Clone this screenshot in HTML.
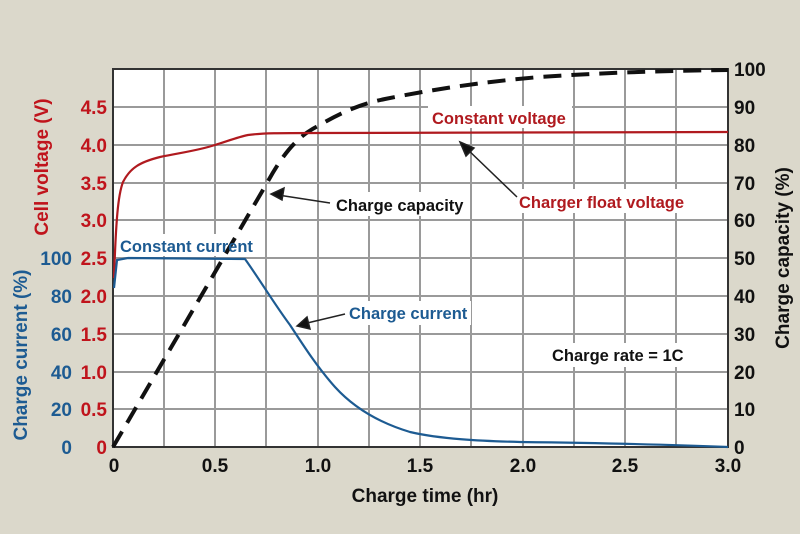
<!DOCTYPE html>
<html><head><style>
html,body{margin:0;padding:0;background:#dbd8cb;}
svg{display:block;font-family:"Liberation Sans",Arial,sans-serif;font-weight:bold;}
</style></head><body>
<svg width="800" height="534" viewBox="0 0 800 534" xmlns="http://www.w3.org/2000/svg">
<rect width="800" height="534" fill="#dbd8cb"/>
<rect x="113" y="69" width="615" height="378" fill="#fff"/>
<g stroke="#9a9a9a" stroke-width="2">
<line x1="164" y1="69" x2="164" y2="447"/><line x1="215" y1="69" x2="215" y2="447"/><line x1="266" y1="69" x2="266" y2="447"/><line x1="318" y1="69" x2="318" y2="447"/><line x1="369" y1="69" x2="369" y2="447"/><line x1="420" y1="69" x2="420" y2="447"/><line x1="471" y1="69" x2="471" y2="447"/><line x1="523" y1="69" x2="523" y2="447"/><line x1="574" y1="69" x2="574" y2="447"/><line x1="625" y1="69" x2="625" y2="447"/><line x1="676" y1="69" x2="676" y2="447"/>
<line x1="113" y1="107" x2="728" y2="107"/><line x1="113" y1="145" x2="728" y2="145"/><line x1="113" y1="183" x2="728" y2="183"/><line x1="113" y1="220" x2="728" y2="220"/><line x1="113" y1="258" x2="728" y2="258"/><line x1="113" y1="296" x2="728" y2="296"/><line x1="113" y1="334" x2="728" y2="334"/><line x1="113" y1="372" x2="728" y2="372"/><line x1="113" y1="409" x2="728" y2="409"/>
</g>
<g fill="#fff">
<rect x="428" y="106" width="144" height="22"/><rect x="514" y="189" width="176" height="24"/>
<rect x="330" y="192" width="136" height="24"/><rect x="345" y="301" width="126" height="24"/>
<rect x="116" y="234" width="142" height="22"/><rect x="548" y="343" width="140" height="24"/>
</g>
<rect x="113" y="69" width="615" height="378" fill="none" stroke="#333" stroke-width="2"/>
<path d="M113,447 L267,183 C285,150 300,135 318,126 C340,113 360,104 385,99 C430,90 480,82 540,77 C600,73 650,71 728,70" fill="none" stroke="#111" stroke-width="4" stroke-dasharray="18,10"/>
<path d="M114,278 C116,220 118,195 123,182 C130,168 140,162 160,157 C185,152 200,150 215,145 C228,141 238,137 248,135 C262,133 280,133 318,133 L728,132" fill="none" stroke="#b01a1f" stroke-width="2.2"/>
<path d="M114,288 L117,260 L128,258 L245,259 C260,280 275,305 290,325 C305,348 318,368 335,387 C355,409 380,423 410,432 C440,439 480,441 520,442 C600,443 680,445 728,447" fill="none" stroke="#1d5b92" stroke-width="2.2"/>
<g stroke="#222" stroke-width="1.5" fill="#111">
<line x1="517" y1="197" x2="464" y2="146"/><polygon points="460,142 474,148 466,156"/>
<line x1="330" y1="203" x2="278" y2="195"/><polygon points="271,194 284,188 282,200"/>
<line x1="345" y1="314" x2="303" y2="324"/><polygon points="297,326 307,317 310,329"/>
</g>
<g font-size="16.5">
<text x="432" y="124" fill="#b01a1f">Constant voltage</text>
<text x="519" y="208" fill="#b01a1f">Charger float voltage</text>
<text x="336" y="211" fill="#111">Charge capacity</text>
<text x="349" y="319" fill="#1d5b92">Charge current</text>
<text x="120" y="252" fill="#1d5b92">Constant current</text>
<text x="552" y="361" fill="#111">Charge rate = 1C</text>
</g>
<g font-size="19" fill="#c0141c" text-anchor="end">
<text x="107" y="454">0</text><text x="107" y="416">0.5</text><text x="107" y="379">1.0</text><text x="107" y="341">1.5</text><text x="107" y="303">2.0</text><text x="107" y="265">2.5</text><text x="107" y="227">3.0</text><text x="107" y="190">3.5</text><text x="107" y="152">4.0</text><text x="107" y="114">4.5</text>
</g>
<g font-size="19" fill="#1d5b92" text-anchor="end">
<text x="72" y="454">0</text><text x="72" y="416">20</text><text x="72" y="379">40</text><text x="72" y="341">60</text><text x="72" y="303">80</text><text x="72" y="265">100</text>
</g>
<g font-size="19" fill="#111">
<text x="734" y="454">0</text><text x="734" y="416">10</text><text x="734" y="379">20</text><text x="734" y="341">30</text><text x="734" y="303">40</text><text x="734" y="265">50</text><text x="734" y="227">60</text><text x="734" y="190">70</text><text x="734" y="152">80</text><text x="734" y="114">90</text><text x="734" y="76">100</text>
</g>
<g font-size="19" fill="#111" text-anchor="middle">
<text x="114" y="472">0</text><text x="215" y="472">0.5</text><text x="318" y="472">1.0</text><text x="420" y="472">1.5</text><text x="523" y="472">2.0</text><text x="625" y="472">2.5</text><text x="728" y="472">3.0</text>
</g>
<text x="425" y="502" font-size="19" fill="#111" text-anchor="middle">Charge time (hr)</text>
<text transform="translate(48,167) rotate(-90)" font-size="19" fill="#c0141c" text-anchor="middle">Cell voltage (V)</text>
<text transform="translate(27,355) rotate(-90)" font-size="19" fill="#1d5b92" text-anchor="middle">Charge current (%)</text>
<text transform="translate(789,258) rotate(-90)" font-size="19" fill="#111" text-anchor="middle">Charge capacity (%)</text>
</svg>
</body></html>
